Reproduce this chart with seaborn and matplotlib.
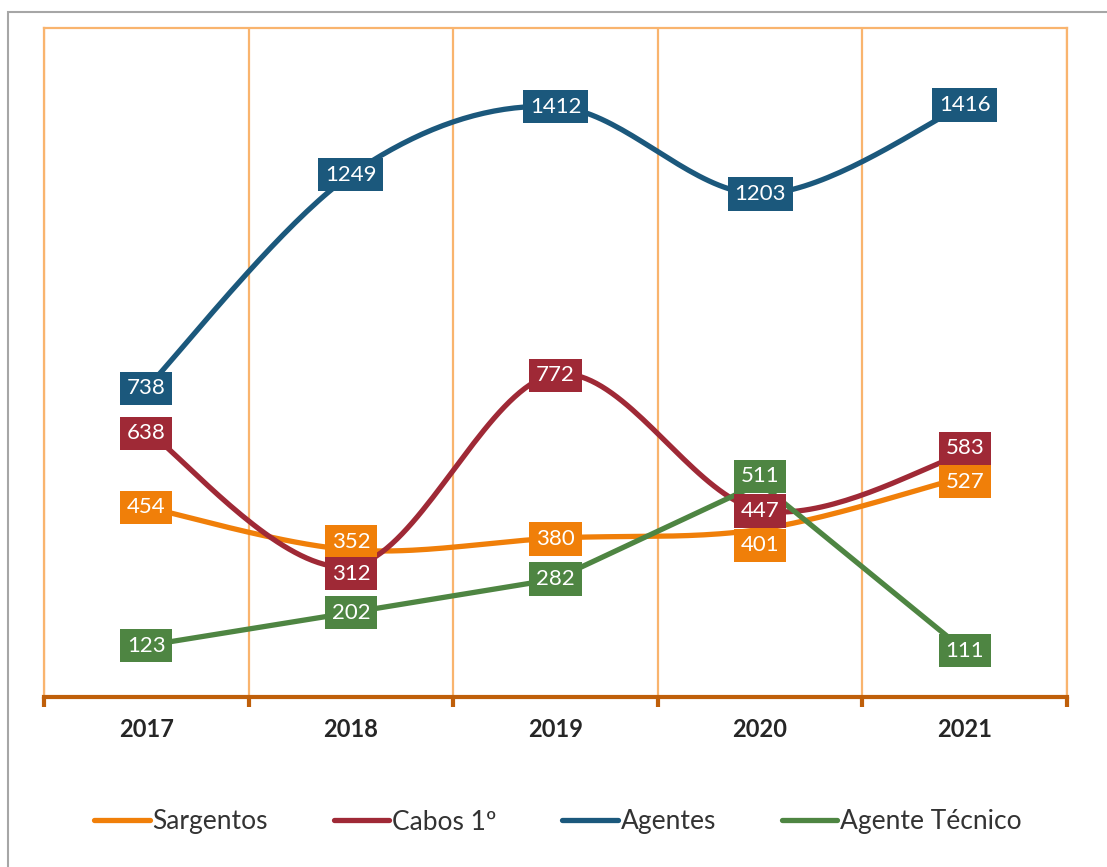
import numpy as np
import pandas as pd
import seaborn as sns
import matplotlib.pyplot as plt
from matplotlib.patches import Rectangle

# data
anos = ['2017', '2018', '2019', '2020', '2021']
sargentos = [454, 352, 380, 401, 527]
cabos = [638, 312, 772, 447, 583]
agentes = [738, 1249, 1412, 1203, 1416]
agente_tecnico = [123, 202, 282, 511, 111]

series = ['Sargentos', 'Cabos 1º', 'Agentes', 'Agente Técnico']
valores = [sargentos, cabos, agentes, agente_tecnico]
cores = ['#F07F09', '#9F2936', '#1B587C', '#4E8542']
suave = [True, True, True, False]

# label nudges (pixels, positive = down) to avoid overlaps like Excel did
desvios = {
    'Sargentos': [0, -8, 1, 16, 5],
    'Cabos 1º': [3, 7, 1, 1, -5],
    'Agentes': [0, 0, 0, 0, 0],
    'Agente Técnico': [0, 0, 0, -7, 0],
}


def catmull_rom(xs, ys, n=40):
    # smooth line drawing, same idea as Excel "smoothed line"
    pts = np.column_stack([xs, ys]).astype(float)
    P = np.vstack([pts[0], pts, pts[-1]])
    out = []
    t = np.linspace(0, 1, n, endpoint=False)[:, None]
    for i in range(1, len(P) - 2):
        p0, p1, p2, p3 = P[i - 1], P[i], P[i + 1], P[i + 2]
        seg = 0.5 * (2 * p1 + (-p0 + p2) * t + (2 * p0 - 5 * p1 + 4 * p2 - p3) * t ** 2
                     + (-p0 + 3 * p1 - 3 * p2 + p3) * t ** 3)
        out.append(seg)
    out.append(pts[-1][None])
    return np.vstack(out)


sns.set_theme(style='white')
plt.rcParams['font.family'] = ['Lato', 'DejaVu Sans']

fig = plt.figure(figsize=(11.07, 8.67), dpi=100)
ax = fig.add_axes([44 / 1107, 1 - 697 / 867, (1067 - 44) / 1107, (697 - 28) / 867])

x = np.arange(len(anos))
linhas = []
for nome, vals, s in zip(series, valores, suave):
    if s:
        c = catmull_rom(x, vals)
    else:
        c = np.column_stack([x, vals])
    linhas.append(pd.DataFrame({'x': c[:, 0], 'y': c[:, 1], 'serie': nome}))
df = pd.concat(linhas, ignore_index=True)

sns.lineplot(data=df, x='x', y='y', hue='serie', hue_order=series,
             palette=dict(zip(series, cores)), estimator=None, sort=False,
             linewidth=3.8, ax=ax, legend=False, solid_capstyle='round')

# data labels
for nome, vals, cor in zip(series, valores, cores):
    for i, v in enumerate(vals):
        ax.annotate(str(v), (i, v), xytext=(0, -desvios[nome][i] * 0.72),
                    textcoords='offset points', ha='center', va='center',
                    fontsize=16, color='white', zorder=5,
                    bbox=dict(boxstyle='square,pad=0.3', fc=cor, ec='none'))

ax.set_xlim(-0.5, 4.5)
ax.set_ylim(0, 1600)
ax.set_xlabel('')
ax.set_ylabel('')
ax.set_yticks([])
ax.set_xticks(x)
ax.set_xticklabels(anos, fontsize=17, fontweight='bold', color='#262626')
ax.set_xticks(np.arange(-0.5, 5, 1), minor=True)
ax.tick_params(axis='x', which='major', length=0, pad=15)
ax.tick_params(axis='x', which='minor', length=7, width=3, color='#BF5F0A', bottom=True)
ax.grid(which='minor', axis='x', color='#F9B46E', linewidth=1.6)
ax.grid(which='major', axis='both', visible=False)

grid_cor = '#F9B46E'
for lado in ['top', 'left', 'right']:
    ax.spines[lado].set_color(grid_cor)
    ax.spines[lado].set_linewidth(1.6)
ax.spines['bottom'].set_color('#BF5F0A')
ax.spines['bottom'].set_linewidth(3)
ax.spines['bottom'].set_zorder(6)

# legend
handles = [plt.Line2D([], [], color=c, lw=3.8, solid_capstyle='round') for c in cores]
fig.legend(handles, series, loc='center', bbox_to_anchor=(558 / 1107, 1 - 822 / 867),
           ncol=4, frameon=False, fontsize=19, handlelength=2.1, handletextpad=0.1,
           columnspacing=2.5, labelcolor='#333333')

# outer chart border (grey, only left and top visible)
fig.patches.append(Rectangle((8 / 1107, -0.2), 1.5, 1.2 - 12 / 867, transform=fig.transFigure,
                             fill=False, edgecolor='#A6A6A6', linewidth=1.5))

fig.savefig('out.png', dpi=100)
